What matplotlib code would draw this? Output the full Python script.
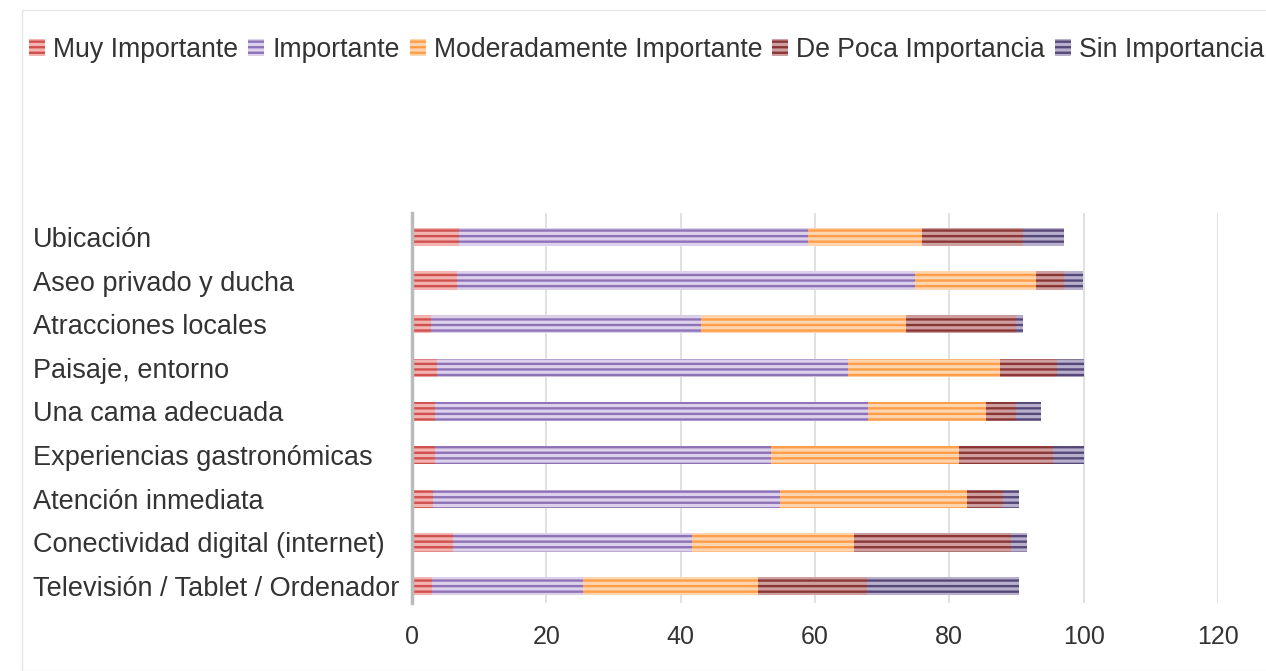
import matplotlib.pyplot as plt
from matplotlib.patches import Patch, Rectangle
import numpy as np

categories = [
    'Ubicación',
    'Aseo privado y ducha',
    'Atracciones locales',
    'Paisaje, entorno',
    'Una cama adecuada',
    'Experiencias gastronómicas',
    'Atención inmediata',
    'Conectividad digital (internet)',
    'Televisión / Tablet / Ordenador',
]

series_names = ['Muy Importante', 'Importante', 'Moderadamente Importante',
                'De Poca Importancia', 'Sin Importancia']

muy_importante = [7.0, 6.7, 2.8, 3.7, 3.4, 3.4, 3.1, 6.1, 3.0]
importante = [52.0, 68.2, 40.2, 61.2, 64.5, 50.0, 51.7, 35.6, 22.5]
moderadamente = [17.0, 18.0, 30.5, 22.6, 17.5, 28.1, 27.8, 24.1, 26.0]
poca = [15.0, 4.2, 16.4, 8.6, 4.5, 14.0, 5.4, 23.4, 16.2]
sin = [6.0, 2.8, 1.1, 3.9, 3.7, 4.5, 2.4, 2.3, 22.7]

series = [muy_importante, importante, moderadamente, poca, sin]

# (light stripe, dark stripe)
colors = [
    ('#f2b3b1', '#d0504d'),
    ('#dcd0ea', '#8e72b8'),
    ('#ffd5b0', '#ff9d48'),
    ('#cf9f9f', '#8a3636'),
    ('#b8afcc', '#554878'),
]

plt.rcParams['hatch.linewidth'] = 1.7
plt.rcParams['font.family'] = ['Liberation Sans', 'DejaVu Sans']

text_color = '#333333'

fig = plt.figure(figsize=(12.66, 6.71), dpi=100)
ax = fig.add_axes([412 / 1266, 1 - 603 / 671, (1218 - 412) / 1266, (603 - 213) / 671])

y = np.arange(len(categories))
left = np.zeros(len(categories))
for vals, (light, dark) in zip(series, colors):
    ax.barh(y, vals, left=left, height=0.42, color=light, edgecolor=dark,
            hatch='---', linewidth=0, zorder=3)
    left += np.array(vals)

ax.set_ylim(len(categories) - 1 + 0.39, -0.55)
ax.set_xlim(0, 120)
ax.set_xticks(range(0, 121, 20))
ax.grid(axis='x', color='#dcdcdc', linewidth=1.2, zorder=0)
ax.set_yticks(y)
ax.set_yticklabels(categories, fontsize=19.5, color=text_color, ha='left')
ax.tick_params(axis='y', length=0, pad=273)
ax.tick_params(axis='x', length=0, labelsize=18, labelcolor=text_color, pad=16)

for s in ['top', 'right', 'bottom']:
    ax.spines[s].set_visible(False)
ax.spines['left'].set_color('#bbbbbb')
ax.spines['left'].set_linewidth(2.5)
ax.spines['left'].set_zorder(4)

handles = [Patch(facecolor=l, edgecolor=d, hatch='---', linewidth=0)
           for l, d in colors]
fig.legend(handles, series_names, loc='upper left', bbox_to_anchor=(0.004, 0.981),
           ncol=5, frameon=False, fontsize=19.2, handlelength=0.6, handleheight=0.6,
           handletextpad=0.3, columnspacing=0.38, labelcolor=text_color)

fig.add_artist(Rectangle((22 / 1266, 0), 1.0, 1 - 10 / 671, transform=fig.transFigure,
                         fill=False, edgecolor='#e6e6e6', linewidth=1))

fig.savefig('out.png', dpi=100)
